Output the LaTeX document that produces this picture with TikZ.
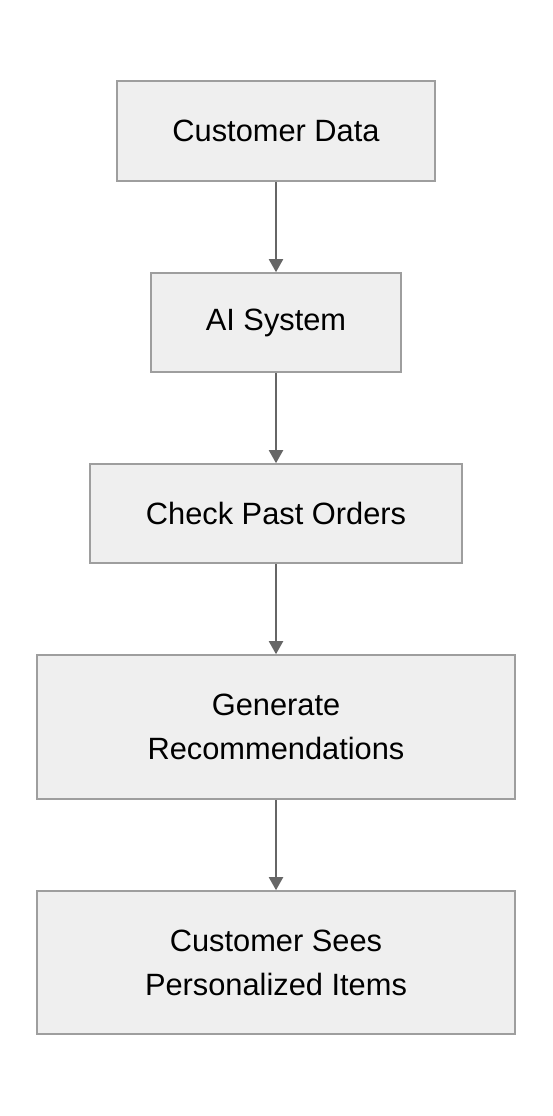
\documentclass[tikz,border=0pt]{standalone}
\usepackage{fontspec}
\setmainfont{Liberation Sans}
\usetikzlibrary{arrows.meta}
\definecolor{boxfill}{HTML}{EFEFEF}
\definecolor{boxline}{HTML}{9E9E9E}
\definecolor{arrowc}{HTML}{666666}
\begin{document}
\begin{tikzpicture}[x=1pt,y=1pt,
  flowbox/.style={draw=boxline,fill=boxfill,line width=1.6pt,inner sep=0pt,
    align=center,font=\fontsize{30.8}{44}\selectfont,text=black},
  flowarrow/.style={draw=arrowc,line width=2pt,-{Triangle[width=14pt,length=13pt]}}]
\useasboundingbox (0,0) rectangle (552,-1116);
\node[flowbox,minimum width=318pt,minimum height=100pt] (a) at (276,-131) {Customer Data};
\node[flowbox,minimum width=250pt,minimum height=99pt] (b) at (276,-322.5) {AI System};
\node[flowbox,minimum width=372pt,minimum height=99pt] (c) at (276,-513.5) {Check Past Orders};
\node[flowbox,minimum width=478pt,minimum height=144pt] (d) at (276,-727) {Generate\\Recommendations};
\node[flowbox,minimum width=478pt,minimum height=143pt] (e) at (276,-962.5) {Customer Sees\\Personalized Items};
\draw[flowarrow] (a) -- (b);
\draw[flowarrow] (b) -- (c);
\draw[flowarrow] (c) -- (d);
\draw[flowarrow] (d) -- (e);
\end{tikzpicture}
\end{document}
